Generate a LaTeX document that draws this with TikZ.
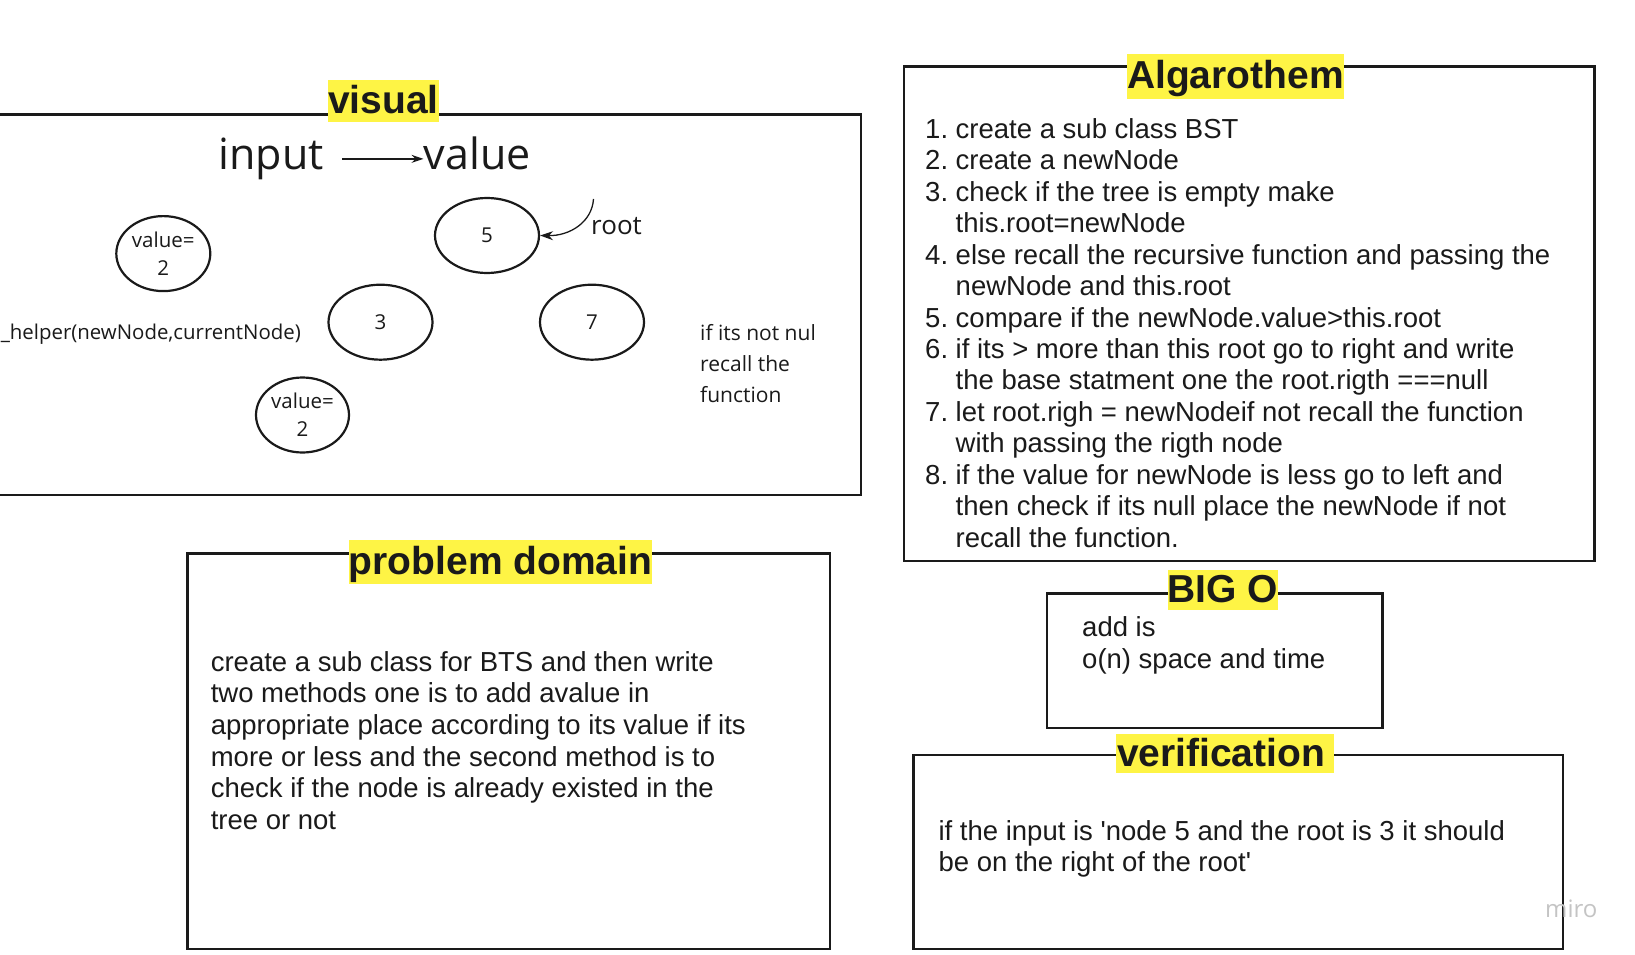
\documentclass[tikz,border=0pt]{standalone}
\usepackage{fontspec}
\setmainfont{Liberation Sans}
\newfontfamily\osans{Open Sans}
\usetikzlibrary{arrows.meta,shapes.geometric}
\definecolor{ink}{HTML}{1A1A1A}
\definecolor{hl}{HTML}{FEF445}
\definecolor{wm}{HTML}{C4C4C4}
\begin{document}
\begin{tikzpicture}[x=1pt,y=-1pt,
  frame/.style={draw=ink,line width=2.6pt},
  title/.style={fill=hl,text=ink,font=\fontsize{39}{42}\selectfont\bfseries,inner xsep=0pt,inner ysep=0pt,text height=32pt,text depth=7pt},
  body/.style={text=ink,anchor=base west,inner sep=0pt,font=\fontsize{27.5}{31.7}\selectfont},
  hand/.style={text=ink,inner sep=0pt,font=\osans\fontsize{21}{31.4}\selectfont},
  bstnode/.style={ellipse,draw=ink,line width=2.2pt,inner sep=0pt,minimum width=104pt,minimum height=75pt,text=ink,align=center,font=\osans\fontsize{20.5}{28}\selectfont},
  conn/.style={draw=ink,line width=1.5pt}
]
\useasboundingbox[fill=white] (0,0) rectangle (1635,955);

% ---------- frames ----------
\draw[frame] (-10,114.7) rectangle (861,495);
\draw[frame] (904,66.7) rectangle (1594.3,561);
\draw[frame] (187.7,553.7) rectangle (830,948.9);
\draw[frame] (1046.9,593.3) rectangle (1382.6,727.8);
\draw[frame] (913.4,755) rectangle (1563,949);

% ---------- titles ----------
\node[title,minimum width=111pt,minimum height=42pt] (tvis) at (383.5,101) {visual};
\node[title,minimum width=217pt,minimum height=45pt] (talg) at (1235.5,76.5) {Algarothem};
\node[title,minimum width=303pt,minimum height=44pt] (tpd) at (500.5,562) {problem domain};
\node[title,minimum width=110pt,minimum height=40pt] (tbig) at (1223,590) {BIG O};
\node[title,minimum width=218pt,minimum height=39pt,text width=216pt,align=left] (tver) at (1225,753.5) {verification};

% ---------- visual panel ----------
\node[text=ink,inner sep=0pt,anchor=base west,font=\osans\fontsize{43}{48}\selectfont] (inp) at (218.5,169) {input};
\node[text=ink,inner sep=0pt,anchor=base west,font=\osans\fontsize{43}{48}\selectfont] (val) at (423.5,169) {value};
\draw[conn,-{Stealth[length=12pt,width=8pt]}] ([xshift=18pt,yshift=7.5pt]inp.mid east) -- ([yshift=7.5pt]val.mid west);

\node[bstnode,minimum width=94pt] (v2a) at (163.3,253.6) {value=\\2};
\node[bstnode] (n5) at (487,235.5) {5};
\node[bstnode] (n3) at (380.5,322.2) {3};
\node[bstnode] (n7) at (592,322.2) {7};
\node[bstnode,minimum width=93pt] (v2b) at (302.5,415) {value=\\2};

\coordinate (rs) at (593.5,199);
\draw[conn,line width=1.3pt,-{Stealth[length=13pt,width=9pt]}] (rs) .. controls (592,222) and (570,236) .. (n5.east);
\node[text=ink,inner sep=0pt,anchor=base west,font=\osans\fontsize{26}{30}\selectfont] (root) at (591,234) {root};

\node[hand,anchor=base east,font=\osans\fontsize{20.4}{28}\selectfont] (helper) at (301,339.3) {\_helper(newNode,currentNode)};
\node[hand,anchor=base west] (recall) at (700,340) {\begin{tabular}[t]{@{}l@{}}if its not nul\\recall the\\function\end{tabular}};

% ---------- algorithm ----------
\node[body,font=\fontsize{27.5}{31.46}\selectfont] (alg) at (925,138.3) {\begin{tabular}[t]{@{}l@{\hspace{7.6pt}}l@{}}
1. & create a sub class BST\\
2. & create a newNode\\
3. & check if the tree is empty make\\
   & this.root=newNode\\
4. & else recall the recursive function and passing the\\
   & newNode and this.root\\
5. & compare if the newNode.value>this.root\\
6. & if its > more than this root go to right and write\\
   & the base statment one the root.rigth ===null\\
7. & let root.righ = newNodeif not recall the function\\
   & with passing the rigth node\\
8. & if the value for newNode is less go to left and\\
   & then check if its null place the newNode if not\\
   & recall the function.
\end{tabular}};

% ---------- problem domain ----------
\node[body] (pd) at (210.6,671) {\begin{tabular}[t]{@{}l@{}}
create a sub class for BTS and then write\\
two methods one is to add avalue in\\
appropriate place according to its value if its\\
more or less and the second method is to\\
check if the node is already existed in the\\
tree or not
\end{tabular}};

% ---------- big o ----------
\node[body,font=\fontsize{27.5}{32.7}\selectfont] (bigo) at (1082,636) {\begin{tabular}[t]{@{}l@{}}
add is\\
o(n) space and time
\end{tabular}};

% ---------- verification ----------
\node[body,font=\fontsize{27.5}{31.5}\selectfont] (ver) at (938.4,840) {\begin{tabular}[t]{@{}l@{}}
if the input is \textquotesingle node 5 and the root is 3 it should\\
be on the right of the root\textquotesingle
\end{tabular}};

% ---------- watermark ----------
\node[text=wm,inner sep=0pt,anchor=base west,font=\osans\fontsize{24}{28}\selectfont] (miro) at (1545,917) {miro};
\end{tikzpicture}
\end{document}
